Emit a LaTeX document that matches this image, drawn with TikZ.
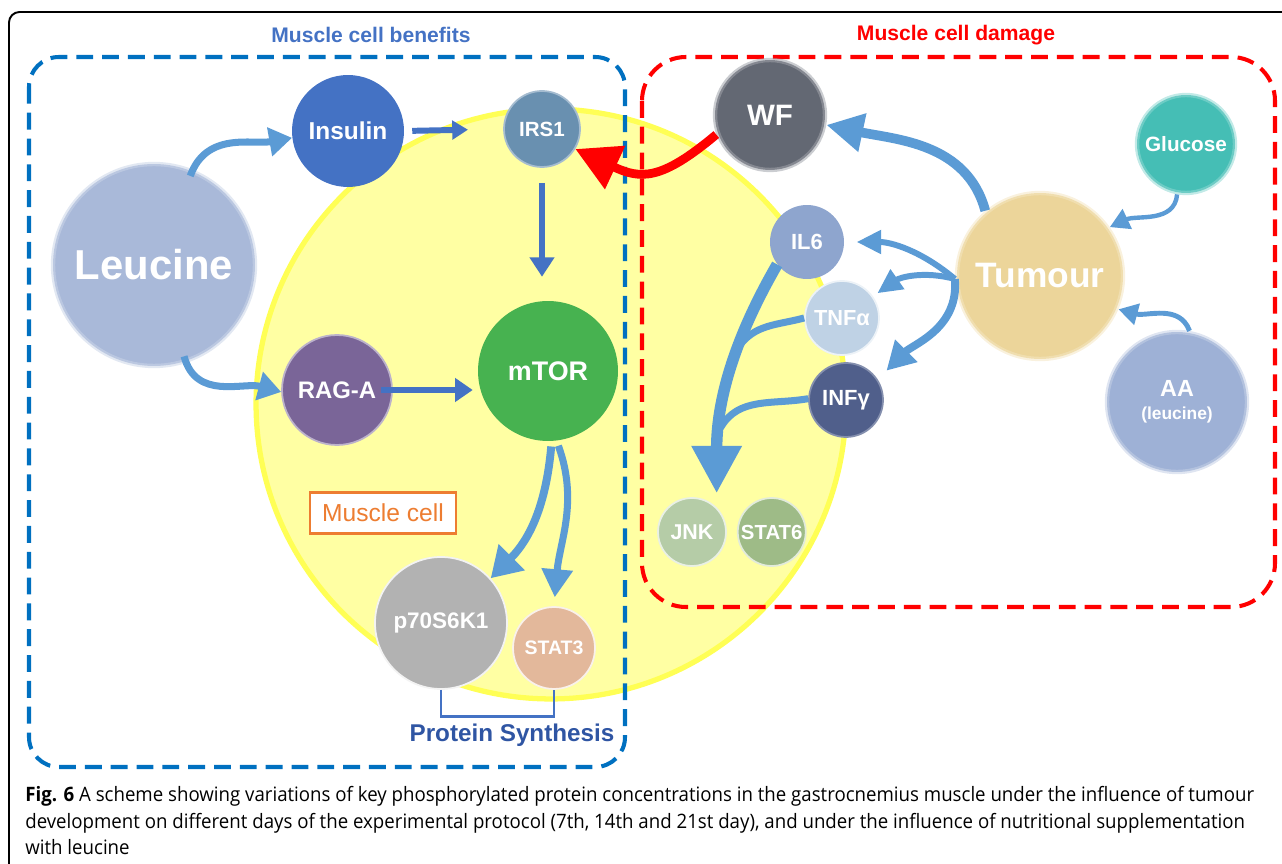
\documentclass[tikz,border=0pt]{standalone}
\usepackage{fontspec}
\setsansfont{Liberation Sans}
\newfontfamily\capfont[FakeStretch=0.94]{Open Sans}
\usepackage{tikz}
\usetikzlibrary{arrows.meta,positioning}
\definecolor{arrblue}{HTML}{5B9BD5}
\definecolor{darkarr}{HTML}{4472C4}
\definecolor{benefitblue}{HTML}{0070C0}
\definecolor{titleblue}{HTML}{4472C4}
\definecolor{psblue}{HTML}{2F55A3}
\definecolor{cellfill}{HTML}{FFFFA3}
\definecolor{celledge}{HTML}{FFFF55}
\definecolor{cellorange}{HTML}{ED7D31}
\definecolor{leucinec}{HTML}{A9B9D9}
\definecolor{insulinc}{HTML}{4472C4}
\definecolor{irsc}{HTML}{6990B0}
\definecolor{mtorc}{HTML}{47B250}
\definecolor{ragac}{HTML}{7A6598}
\definecolor{p70c}{HTML}{B2B2B2}
\definecolor{stattc}{HTML}{E3B89B}
\definecolor{wfc}{HTML}{636873}
\definecolor{glucc}{HTML}{45BEB5}
\definecolor{tumc}{HTML}{ECD59A}
\definecolor{aac}{HTML}{9EB1D6}
\definecolor{ilc}{HTML}{8EA5CE}
\definecolor{tnfc}{HTML}{BFD2E5}
\definecolor{infc}{HTML}{505F8B}
\definecolor{jnkc}{HTML}{B5CCA7}
\definecolor{statsc}{HTML}{9EBB87}
\newcommand{\lblsize}[1]{\fontsize{#1}{#1}\selectfont}
\tikzset{
  mol/.style n args={2}{circle, fill=#1, text=white, inner sep=0pt,
                        font=\sffamily\bfseries\lblsize{#2}},
  soft/.style={draw=#1!60!white, draw opacity=0.55, line width=2.5pt},
  rim/.style={draw=#1, line width=1pt},
  barr/.style n args={3}{draw=arrblue, line width=#1, -{Triangle[length=#2, width=#3]}},
  darr/.style n args={3}{draw=darkarr, line width=#1, -{Triangle[length=#2, width=#3]}},
  rarr/.style={draw=red, line width=5pt, -{Triangle[length=25pt, width=26pt]}},
  branch/.style={draw=arrblue, line width=4pt},
  zone/.style={draw=#1, dash pattern=on 9.6pt off 5.1pt, line width=2.3pt},
  zonetitle/.style={font=\sffamily\bfseries\lblsize{12}, text=#1},
  bracket/.style={draw=darkarr, line width=1.6pt},
  caption/.style={anchor=base west, inner sep=0pt, font=\capfont\lblsize{11.3}},
}
\begin{document}
\begin{tikzpicture}[x=0.02cm, y=-0.02cm]
\useasboundingbox (0,0) rectangle (1282,864);
\clip (0,0) rectangle (1282,864);
% frame and muscle cell
\draw[line width=1.1pt, rounded corners=6pt] (9,12) rectangle (1320,900);
\node[circle, fill=cellfill, draw=celledge, line width=3pt, minimum size=11.8cm] (cell) at (551,404) {};
% zones
\draw[zone=benefitblue, rounded corners=17pt] (29,57) rectangle (625,767);
\draw[zone=red, rounded corners=25pt] (642,57) rectangle (1275,607);
\node[zonetitle=titleblue] (bentitle) at (371,35) {Muscle cell benefits};
\node[zonetitle=red] (dmgtitle) at (956,35) {Muscle cell damage};

% benefits side
\node[mol={leucinec}{23.8}, soft=leucinec, minimum size=4.04cm] (leucine) at (154,265) {Leucine};
\node[mol={insulinc}{13.9}, minimum size=2.24cm] (insulin) at (348,131) {Insulin};
\node[mol={irsc}{11.7}, rim=irsc!60!white, minimum size=1.52cm] (irs1) at (542,129) {IRS1};
\node[mol={mtorc}{15.3}, minimum size=2.8cm] (mtor) at (548,371) {mTOR};
\node[mol={ragac}{13.6}, rim=ragac!50!white, minimum size=2.2cm] (raga) at (337,390) {RAG-A};
\node[mol={p70c}{12.8}, rim=white!85!p70c, minimum size=2.64cm] (p70) at (441,623) {p70S6K1};
\node[mol={stattc}{11.1}, rim=white!80!stattc, minimum size=1.64cm] (stat3) at (554,648) {STAT3};
\node[draw=cellorange, line width=1.2pt, fill=white, text=cellorange, font=\sffamily\lblsize{14},
      minimum width=2.92cm, minimum height=0.82cm] (celllabel) at (383,513) {Muscle cell};
\node[font=\sffamily\bfseries\lblsize{13.8}, text=psblue] (pslabel) at (512,735) {Protein Synthesis};
\draw[bracket] (p70.south) -- ++(0,27) -| (stat3.south);

% damage side
\node[mol={wfc}{16.8}, soft=wfc, minimum size=2.2cm] (wf) at (770,115) {WF};
\node[mol={glucc}{11.8}, soft=glucc, minimum size=1.96cm] (glucose) at (1186,144) {Glucose};
\node[mol={tumc}{20.1}, soft=tumc, minimum size=3.32cm] (tumour) at (1040,276) {Tumour};
\node[mol={aac}{13.3}, soft=aac, minimum size=2.8cm, align=center] (aa) at (1177,402)
     {AA\\{\lblsize{9.9}(leucine)}};
\node[mol={ilc}{12.5}, minimum size=1.48cm] (il6) at (807,242) {IL6};
\node[mol={tnfc}{12.4}, rim=white!70!tnfc, minimum size=1.48cm] (tnf) at (842,318) {TNFα};
\node[mol={infc}{12.5}, rim=infc!70!white, minimum size=1.48cm] (infg) at (846,400) {INFγ};
\node[mol={jnkc}{12.2}, rim=white!70!jnkc, minimum size=1.36cm] (jnk) at (692,532) {JNK};
\node[mol={statsc}{11.6}, rim=white!70!statsc, minimum size=1.36cm, right=0.2cm of jnk] (stat6) {STAT6};

% connectors, benefits
\draw[barr={4pt}{13pt}{16pt}, shorten <=-4pt] (leucine.68) to[out=70, in=190] (insulin.187);
\draw[barr={4pt}{13pt}{16pt}, shorten <=-4pt] (leucine.-72) to[out=-75, in=165] (raga.182);
\draw[darr={3.4pt}{9pt}{10.5pt}, shorten <=4.5pt, shorten >=20pt] (insulin.east) -- (irs1.west);
\draw[darr={3.8pt}{11pt}{13.5pt}, shorten <=8.5pt, shorten >=13.6pt] (irs1.south) -- (irs1.south |- mtor.north);
\draw[darr={3.8pt}{10pt}{13pt}, shorten <=-6.8pt, shorten >=2.8pt] (raga.east) -- (raga.east -| mtor.west);
\draw[barr={4.5pt}{17pt}{20pt}, shorten <=3pt] (mtor.-87) to[out=-95, in=45] (p70.42);
\draw[barr={4pt}{16pt}{17pt}, shorten <=3pt, shorten >=5pt] (mtor.-83) to[out=-70, in=85] (stat3.north);

% connectors, damage
\draw[rarr] (wf.200) to[out=220, in=-25, looseness=1.3] (irs1.-31);
\draw[barr={5.5pt}{21pt}{21pt}] (tumour.130) to[out=105, in=-12] (wf.-10);
\draw[barr={2.5pt}{11pt}{12pt}] (glucose.-100) to[out=-95, in=25] (tumour.35);
\draw[barr={2.8pt}{11pt}{12pt}] (aa.80) to[out=110, in=-15] (tumour.-23);
\draw[barr={3.4pt}{14pt}{13pt}, shorten >=7pt] (tumour.182) to[out=140, in=0] (il6.east);
\draw[barr={3.4pt}{14pt}{13pt}, shorten >=3pt] (tumour.182) to[out=165, in=35] (tnf.35);
\draw[barr={4.5pt}{16pt}{17pt}, shorten >=7pt] (tumour.182) to[out=-85, in=45] (infg.33);
\draw[barr={6.5pt}{27pt}{27pt}, shorten >=8pt] (il6.217) to[out=240, in=90]
      coordinate[pos=0.35] (mergea) coordinate[pos=0.7] (mergeb) (jnk.45);
\draw[branch] (tnf.180) to[out=195, in=55] (mergea);
\draw[branch] (infg.178) to[out=190, in=60] (mergeb);

% caption
\node[caption] (capa) at (25,802) {\textbf{Fig. 6} A scheme showing variations of key phosphorylated protein concentrations in the gastrocnemius muscle under the influence of tumour};
\node[caption] (capb) at (25,828) {development on different days of the experimental protocol (7th, 14th and 21st day), and under the influence of nutritional supplementation};
\node[caption] (capc) at (25,854) {with leucine};
\end{tikzpicture}
\end{document}
